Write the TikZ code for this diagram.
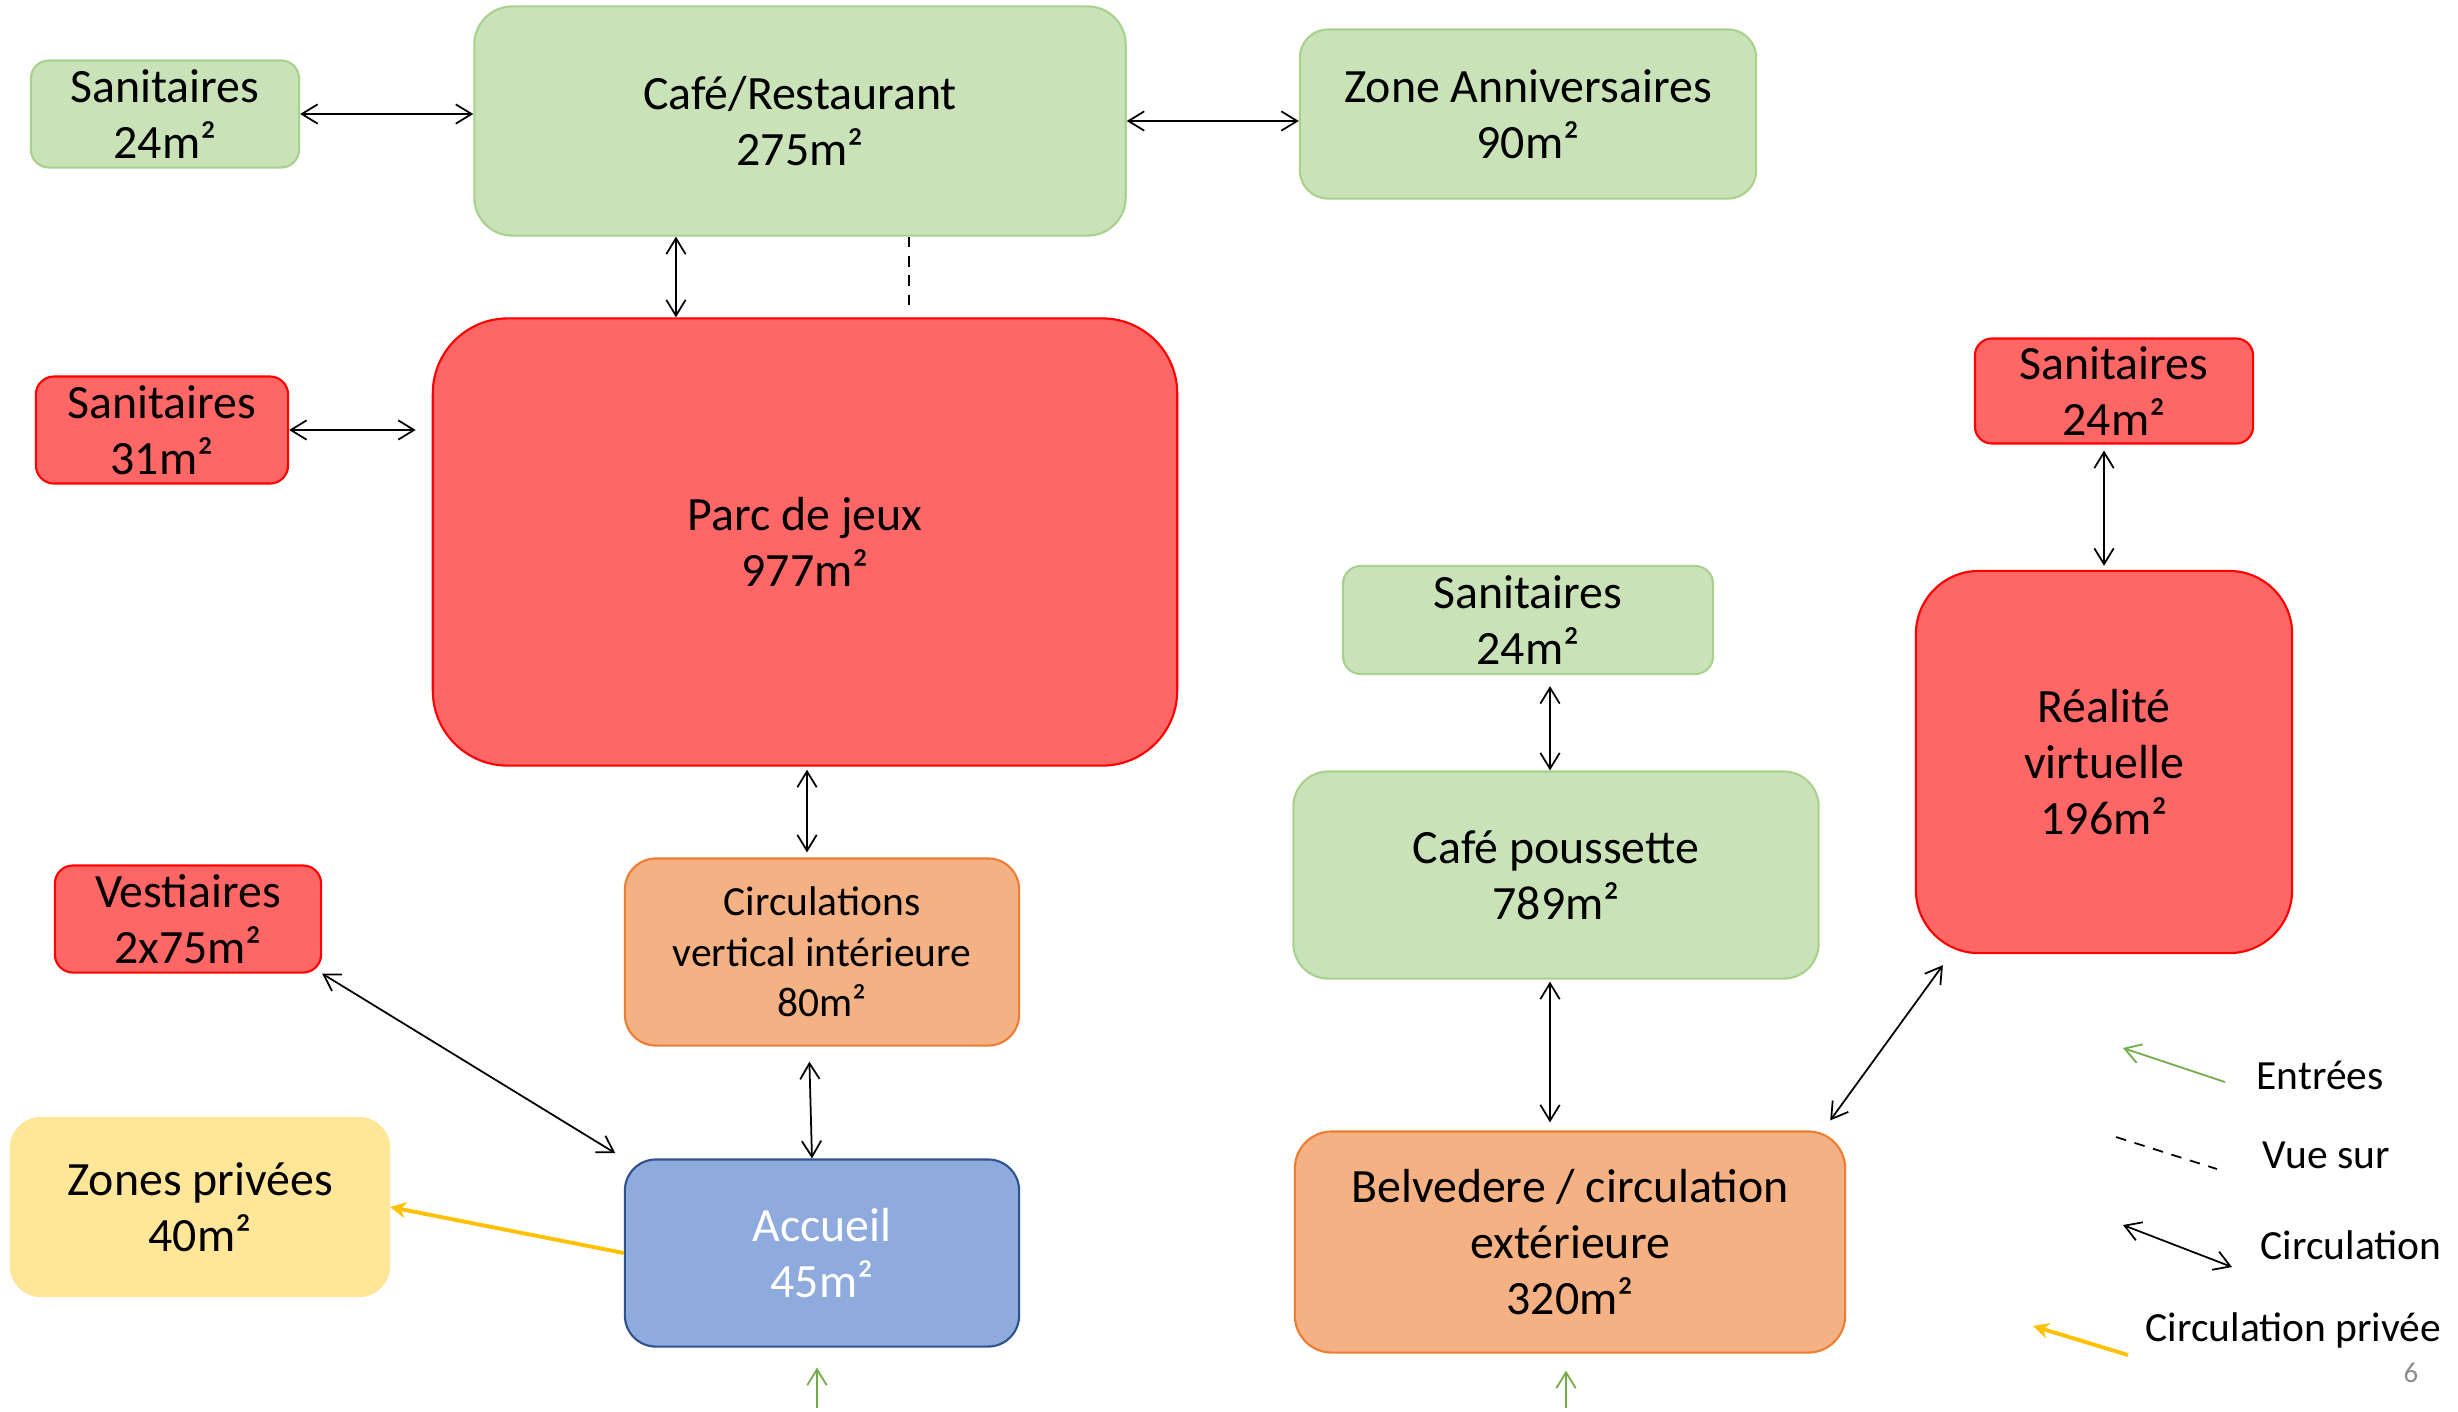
\documentclass[tikz,border=0pt]{standalone}
\usepackage{fontspec}
\setmainfont{Carlito}
\usetikzlibrary{arrows.meta}

\definecolor{vertfond}{HTML}{C9E2B8}
\definecolor{vertbord}{HTML}{A9D18E}
\definecolor{rougefond}{HTML}{FF6666}
\definecolor{rougebord}{HTML}{FF0000}
\definecolor{orangefond}{HTML}{F4B183}
\definecolor{orangebord}{HTML}{ED7D31}
\definecolor{bleufond}{HTML}{8FAADC}
\definecolor{bleubord}{HTML}{2F528F}
\definecolor{jaunefond}{HTML}{FFE699}
\definecolor{entreevert}{HTML}{70AD47}
\definecolor{priveejaune}{HTML}{FFC000}

\newcommand{\grand}{\fontsize{13.6}{15.9}\selectfont}
\newcommand{\petit}{\fontsize{11.8}{14.3}\selectfont}

\begin{document}
\begin{tikzpicture}[x=0.01cm, y=-0.01cm,
    salle/.style={draw, line width=0.6pt, align=center, inner sep=0pt, font=\grand},
    zoneverte/.style={salle, fill=vertfond, draw=vertbord},
    zonerouge/.style={salle, fill=rougefond, draw=rougebord},
    zoneorange/.style={salle, fill=orangefond, draw=orangebord},
    zonebleue/.style={salle, fill=bleufond, draw=bleubord, text=white},
    zonejaune/.style={salle, fill=jaunefond, draw=jaunefond},
    legende/.style={inner sep=0pt, anchor=base west, font=\petit},
    circ/.style={{Straight Barb[length=4.5pt,width=5.5pt]}-{Straight Barb[length=4.5pt,width=5.5pt]}, line width=0.5pt},
    vue/.style={dash pattern=on 3pt off 2.5pt, line width=0.5pt},
    entree/.style={-{Straight Barb[length=4.5pt,width=5.5pt]}, draw=entreevert, line width=0.5pt},
    privee/.style={-{Stealth[length=4.5pt,width=4.5pt]}, draw=priveejaune, fill=priveejaune, line width=1.1pt}]
\useasboundingbox (0,0) rectangle (2458,1411);

% salles
\node[zoneverte, minimum width=2.68cm, minimum height=1.07cm, rounded corners=0.18cm] (sanA) at (165,114) {Sanitaires\\24m²};
\node[zoneverte, minimum width=6.51cm, minimum height=2.29cm, rounded corners=0.38cm] (cafe) at (800,121) {Café/Restaurant\\275m²};
\node[zoneverte, minimum width=4.56cm, minimum height=1.69cm, rounded corners=0.28cm] (anniv) at (1528,114) {Zone Anniversaires\\90m²};
\node[zonerouge, minimum width=2.52cm, minimum height=1.07cm, rounded corners=0.18cm] (sanB) at (162,430) {Sanitaires\\31m²};
\node[zonerouge, minimum width=7.44cm, minimum height=4.47cm, rounded corners=0.75cm] (parc) at (805,542) {Parc de jeux\\977m²};
\node[zonerouge, minimum width=2.78cm, minimum height=1.05cm, rounded corners=0.17cm] (sanC) at (2114,391) {Sanitaires\\24m²};
\node[zoneverte, minimum width=3.70cm, minimum height=1.08cm, rounded corners=0.18cm] (sanD) at (1528,620) {Sanitaires\\24m²};
\node[zonerouge, minimum width=3.76cm, minimum height=3.82cm, rounded corners=0.63cm] (vr) at (2104,762) {Réalité\\virtuelle\\196m²};
\node[zoneverte, minimum width=5.25cm, minimum height=2.07cm, rounded corners=0.35cm] (pouss) at (1556,875) {Café poussette\\789m²};
\node[zonerouge, minimum width=2.66cm, minimum height=1.07cm, rounded corners=0.18cm] (vest) at (188,919) {Vestiaires\\2x75m²};
\node[zoneorange, minimum width=3.94cm, minimum height=1.87cm, rounded corners=0.31cm, font=\petit] (circv) at (822,952) {Circulations\\vertical intérieure\\80m²};
\node[zonejaune, minimum width=3.78cm, minimum height=1.78cm, rounded corners=0.30cm] (prive) at (200,1207) {Zones privées\\40m²};
\node[zonebleue, minimum width=3.94cm, minimum height=1.87cm, rounded corners=0.31cm] (accueil) at (822,1253) {Accueil\\45m²};
\node[zoneorange, minimum width=5.50cm, minimum height=2.21cm, rounded corners=0.37cm] (belv) at (1570,1242) {Belvedere / circulation\\extérieure\\320m²};

% liaisons
\draw[circ] (sanA.east) -- (sanA.east -| cafe.west);
\draw[circ] (cafe.east) -- (cafe.east -| anniv.west);
\draw[circ] ([xshift=-1.24cm]cafe.south) -- ([xshift=-1.24cm]cafe.south |- parc.north);
\draw[vue, shorten >=0.08cm] ([xshift=1.09cm]cafe.south) -- ([xshift=1.09cm]cafe.south |- parc.north);
\draw[circ, shorten >=0.16cm] (sanB.east) -- (sanB.east -| parc.west);
\draw[circ, shorten <=0.03cm, shorten >=0.05cm] ([xshift=0.02cm]parc.south) -- ([xshift=0.02cm]parc.south |- circv.north);
\draw[circ, shorten <=0.15cm] ([xshift=-0.13cm]circv.south) -- ([xshift=-0.10cm]accueil.north);
\draw[circ, shorten >=0.1cm] (vest.south east) -- (accueil.north west);
\draw[privee] (accueil.west) -- (prive.east);
\draw[circ, shorten <=0.11cm] ([xshift=0.22cm]sanD.south) -- ([xshift=0.22cm]sanD.south |- pouss.north);
\draw[circ, shorten <=0.02cm, shorten >=0.08cm] ([xshift=-0.06cm]pouss.south) -- ([xshift=-0.06cm]pouss.south |- belv.north);
\draw[circ] ([xshift=-0.16cm,yshift=0.10cm]belv.north east) -- ([xshift=0.28cm,yshift=-0.11cm]vr.south west);
\draw[circ, shorten <=0.06cm, shorten >=0.04cm] ([xshift=-0.10cm]sanC.south) -- ([xshift=-0.10cm]sanC.south |- vr.north);

% entrees
\coordinate (inA) at (817,1408);
\coordinate (inB) at (1566,1408);
\draw[entree, shorten >=0.2cm] (inA) -- (inA |- accueil.south);
\draw[entree, shorten >=0.17cm] (inB) -- (inB |- belv.south);

% legende
\coordinate (lgA1) at (2225,1082); \coordinate (lgA2) at (2123,1048);
\coordinate (lgB1) at (2116,1137); \coordinate (lgB2) at (2217,1169);
\coordinate (lgC1) at (2123,1225); \coordinate (lgC2) at (2232,1267);
\coordinate (lgD1) at (2128,1355); \coordinate (lgD2) at (2033,1326);
\draw[entree] (lgA1) -- (lgA2);
\draw[vue] (lgB1) -- (lgB2);
\draw[circ] (lgC1) -- (lgC2);
\draw[privee] (lgD1) -- (lgD2);
\node[legende] (txtA) at (2256,1089) {Entrées};
\node[legende] (txtB) at (2262,1168) {Vue sur};
\node[legende] (txtC) at (2260,1259) {Circulation};
\node[legende] (txtD) at (2145,1341) {Circulation privée};
\node[legende, font=\fontsize{8.2}{9.8}\selectfont, text=black!45] (page) at (2403,1382) {6};
\end{tikzpicture}
\end{document}
